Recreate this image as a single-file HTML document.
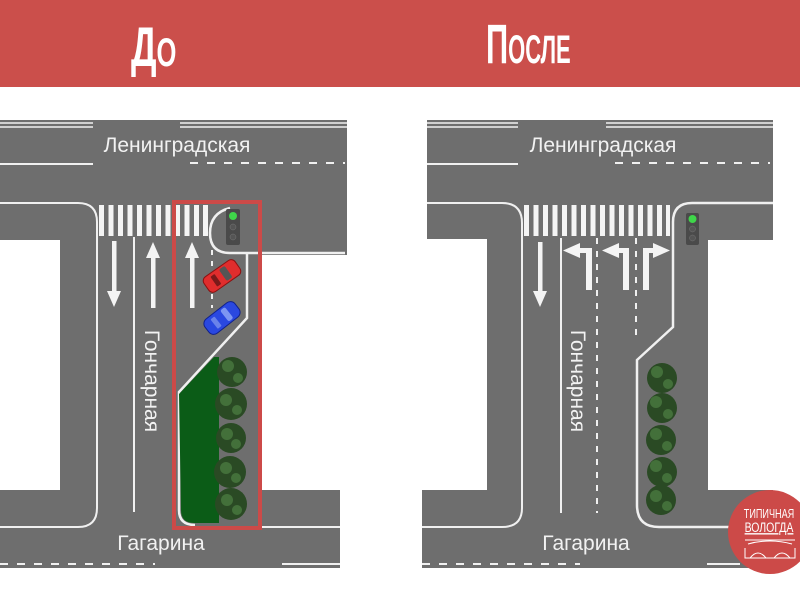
<!DOCTYPE html>
<html><head><meta charset="utf-8"><style>
html,body{margin:0;padding:0;background:#fff;}
svg{display:block;}
text{font-family:"Liberation Sans","DejaVu Sans",sans-serif;fill:#f2f2f2;}
</style></head><body>
<svg width="800" height="600" viewBox="0 0 800 600" xmlns="http://www.w3.org/2000/svg">
<rect x="0" y="0" width="800" height="600" fill="#fff"/>
<rect x="0" y="0" width="800" height="87" fill="#cb4f4b"/>
<text x="0" y="0" font-size="56" font-weight="bold" transform="translate(131,66) scale(0.64,1)" style="fill:#fff">Д<tspan font-size="40">О</tspan></text>
<text x="0" y="0" font-size="56" font-weight="bold" transform="translate(486,63) scale(0.55,1)" style="fill:#fff">П<tspan font-size="40">ОСЛЕ</tspan></text>

<g>
<rect x="0" y="120" width="347" height="135" fill="#6e6e6e"/>
<rect x="0" y="200" width="262" height="368" fill="#6e6e6e"/>
<rect x="262" y="490" width="78" height="78" fill="#6e6e6e"/>
<rect x="0" y="240" width="60" height="250" fill="#fff"/>
<g stroke="#f0f0f0" fill="none">
<line x1="0" y1="123" x2="93" y2="123" stroke-width="1.5"/>
<line x1="0" y1="127" x2="93" y2="127" stroke-width="1.5"/>
<line x1="180" y1="123" x2="347" y2="123" stroke-width="1.5"/>
<line x1="180" y1="127" x2="347" y2="127" stroke-width="1.5"/>
<line x1="0" y1="164" x2="93" y2="164" stroke-width="2"/>
<line x1="190" y1="163" x2="345" y2="163" stroke-width="2" stroke-dasharray="8,9"/>
<path d="M0 203 H78 Q97 203 97 222 V508 Q97 527 78 527 H0" stroke-width="2"/>
<path d="M345 253 H230 Q210 253 210 233 Q210 213 230 208" stroke-width="2.5"/>
<path d="M247 253 V318 L179 392 V510 Q179 525 195 525" stroke-width="2.5"/>
<line x1="262" y1="527" x2="340" y2="527" stroke-width="2"/>
<line x1="134" y1="237" x2="134" y2="512" stroke-width="2"/>
<line x1="212" y1="250" x2="212" y2="308" stroke-width="2" stroke-dasharray="5,6"/>
<line x1="0" y1="564" x2="155" y2="564" stroke-width="2" stroke-dasharray="8,9"/>
<line x1="282" y1="564" x2="340" y2="564" stroke-width="2"/>
</g>
<g fill="#f4f4f4">
<rect x="99" y="205" width="5" height="31"/><rect x="108.5" y="205" width="5" height="31"/><rect x="118" y="205" width="5" height="31"/><rect x="127.5" y="205" width="5" height="31"/><rect x="137" y="205" width="5" height="31"/><rect x="146.5" y="205" width="5" height="31"/><rect x="156" y="205" width="5" height="31"/><rect x="165.5" y="205" width="5" height="31"/><rect x="175" y="205" width="5" height="31"/><rect x="184.5" y="205" width="5" height="31"/><rect x="194" y="205" width="5" height="31"/><rect x="203" y="205" width="5" height="31"/>
</g>
<g fill="#f4f4f4">
<rect x="112" y="241" width="4.5" height="52"/><path d="M107 291 H121 L114 307 Z"/>
<rect x="151" y="256" width="4.5" height="52"/><path d="M146 258 H160 L153 242 Z"/>
<rect x="190" y="256" width="4.5" height="52"/><path d="M185 258 H199 L192 242 Z"/>
</g>
<rect x="226" y="209" width="14" height="36" rx="2" fill="#4a4a4a"/>
<circle cx="233" cy="216" r="4" fill="#3fd64a"/>
<circle cx="233" cy="227" r="3" fill="#555" stroke="#777" stroke-width="0.5"/>
<circle cx="233" cy="237" r="3" fill="#555" stroke="#777" stroke-width="0.5"/>
<g transform="translate(222,276) rotate(55)">
<rect x="-9" y="-19" width="18" height="38" rx="5" fill="#e02d2d" stroke="#8a1010" stroke-width="1"/>
<rect x="-7" y="-8" width="14" height="7" rx="2" fill="#555"/>
<rect x="-6" y="5" width="12" height="5" rx="1" fill="#7a1a1a"/>
</g>
<g transform="translate(222,318) rotate(52)">
<rect x="-9" y="-19" width="18" height="38" rx="6" fill="#2a48e0" stroke="#10208a" stroke-width="1"/>
<rect x="-7" y="-9" width="14" height="6" rx="2" fill="#7d96f2"/>
<rect x="-6" y="5" width="12" height="5" rx="1" fill="#6a82ea"/>
</g>
<path d="M179 394 L214 357 H219 V523 H194 Q181 523 181 510 Z" fill="#0b5c17"/>
<g fill="#2a4a24">
<circle cx="232" cy="372" r="15"/><circle cx="231" cy="404" r="16"/><circle cx="231" cy="438" r="15"/><circle cx="230" cy="472" r="16"/><circle cx="231" cy="504" r="16"/>
</g>
<g fill="#4a7a40" opacity="0.8">
<circle cx="228" cy="366" r="6"/><circle cx="238" cy="378" r="5"/><circle cx="226" cy="400" r="6"/><circle cx="237" cy="410" r="5"/><circle cx="227" cy="434" r="6"/><circle cx="236" cy="444" r="5"/><circle cx="226" cy="468" r="6"/><circle cx="236" cy="478" r="5"/><circle cx="227" cy="500" r="6"/><circle cx="237" cy="510" r="5"/>
</g>
<rect x="174" y="202" width="86" height="326" fill="none" stroke="#cc4a48" stroke-width="4"/>
<text x="177" y="152" font-size="21" text-anchor="middle">Ленинградская</text>
<text x="0" y="0" font-size="21" text-anchor="middle" transform="translate(145,381) rotate(90)">Гончарная</text>
<text x="161" y="550" font-size="21" text-anchor="middle">Гагарина</text>
</g>

<g>
<rect x="427" y="120" width="346" height="120" fill="#6e6e6e"/>
<rect x="427" y="200" width="281" height="368" fill="#6e6e6e"/>
<rect x="422" y="490" width="351" height="78" fill="#6e6e6e"/>
<rect x="427" y="239" width="60" height="251" fill="#fff"/>
<g stroke="#f0f0f0" fill="none">
<line x1="427" y1="123" x2="518" y2="123" stroke-width="1.5"/>
<line x1="427" y1="127" x2="518" y2="127" stroke-width="1.5"/>
<line x1="606" y1="123" x2="773" y2="123" stroke-width="1.5"/>
<line x1="606" y1="127" x2="773" y2="127" stroke-width="1.5"/>
<line x1="427" y1="164" x2="518" y2="164" stroke-width="2"/>
<line x1="615" y1="163" x2="770" y2="163" stroke-width="2" stroke-dasharray="8,9"/>
<path d="M427 203 H502 Q522 203 522 223 V508 Q522 527 502 527 H422" stroke-width="2"/>
<path d="M773 203 H692 Q673 203 673 222 V327 L637 360 V505 Q637 527 659 527 H773" stroke-width="2.5"/>
<line x1="561" y1="238" x2="561" y2="513" stroke-width="2"/>
<line x1="597" y1="238" x2="597" y2="513" stroke-width="2" stroke-dasharray="6,7"/>
<line x1="636" y1="238" x2="636" y2="340" stroke-width="2" stroke-dasharray="6,7"/>
<line x1="422" y1="564" x2="580" y2="564" stroke-width="2" stroke-dasharray="8,9"/>
<line x1="707" y1="564" x2="740" y2="564" stroke-width="2"/>
</g>
<g fill="#f4f4f4">
<rect x="524" y="205" width="5" height="31"/><rect x="533.5" y="205" width="5" height="31"/><rect x="543" y="205" width="5" height="31"/><rect x="552.5" y="205" width="5" height="31"/><rect x="562" y="205" width="5" height="31"/><rect x="571.5" y="205" width="5" height="31"/><rect x="581" y="205" width="5" height="31"/><rect x="590.5" y="205" width="5" height="31"/><rect x="600" y="205" width="5" height="31"/><rect x="609.5" y="205" width="5" height="31"/><rect x="619" y="205" width="5" height="31"/><rect x="628.5" y="205" width="5" height="31"/><rect x="638" y="205" width="5" height="31"/><rect x="647.5" y="205" width="5" height="31"/><rect x="657" y="205" width="5" height="31"/><rect x="666" y="205" width="4" height="31"/>
<rect x="538" y="242" width="4.5" height="50"/><path d="M533 291 H547 L540 307 Z"/>
<rect x="586" y="248" width="6" height="42"/><rect x="578" y="248" width="14" height="5"/><path d="M580 243 V258 L563 250.5 Z"/>
<rect x="623" y="248" width="6" height="42"/><rect x="617" y="248" width="12" height="5"/><path d="M619 243 V258 L602 250.5 Z"/>
<rect x="643" y="248" width="6" height="42"/><rect x="643" y="248" width="12" height="5"/><path d="M653 243 V258 L670 250.5 Z"/>
</g>
<rect x="686" y="213" width="13" height="32" rx="2" fill="#4a4a4a"/>
<circle cx="692.5" cy="219" r="4" fill="#3fd64a"/>
<circle cx="692.5" cy="229" r="3" fill="#555" stroke="#777" stroke-width="0.5"/>
<circle cx="692.5" cy="238" r="3" fill="#555" stroke="#777" stroke-width="0.5"/>
<g fill="#2a4a24">
<circle cx="662" cy="378" r="15"/><circle cx="662" cy="408" r="15"/><circle cx="661" cy="440" r="15"/><circle cx="662" cy="472" r="15"/><circle cx="661" cy="500" r="15"/>
</g>
<g fill="#4a7a40" opacity="0.8">
<circle cx="657" cy="372" r="6"/><circle cx="668" cy="384" r="5"/><circle cx="656" cy="402" r="6"/><circle cx="668" cy="414" r="5"/><circle cx="656" cy="434" r="6"/><circle cx="667" cy="446" r="5"/><circle cx="656" cy="466" r="6"/><circle cx="667" cy="478" r="5"/><circle cx="656" cy="496" r="6"/><circle cx="667" cy="506" r="5"/>
</g>
<text x="603" y="152" font-size="21" text-anchor="middle">Ленинградская</text>
<text x="0" y="0" font-size="21" text-anchor="middle" transform="translate(571,381) rotate(90)">Гончарная</text>
<text x="586" y="550" font-size="21" text-anchor="middle">Гагарина</text>
</g>

<circle cx="770" cy="532" r="42" fill="#cc4a48"/>
<text x="0" y="0" font-size="13" text-anchor="middle" transform="translate(769,518) scale(0.7,1)" style="fill:#fff">ТИПИЧНАЯ</text>
<text x="0" y="0" font-size="14" text-anchor="middle" transform="translate(769,532) scale(0.75,1)" style="fill:#fff;text-decoration:underline">ВОЛОГДА</text>
<g stroke="#fff" fill="none" stroke-width="1">
<path d="M745 540 H795 M748 544 Q770 538 792 544 M745 548 V558 H795 V548 M750 558 Q758 548 766 558 M774 558 Q782 548 790 558"/>
</g>
</svg>
</body></html>
